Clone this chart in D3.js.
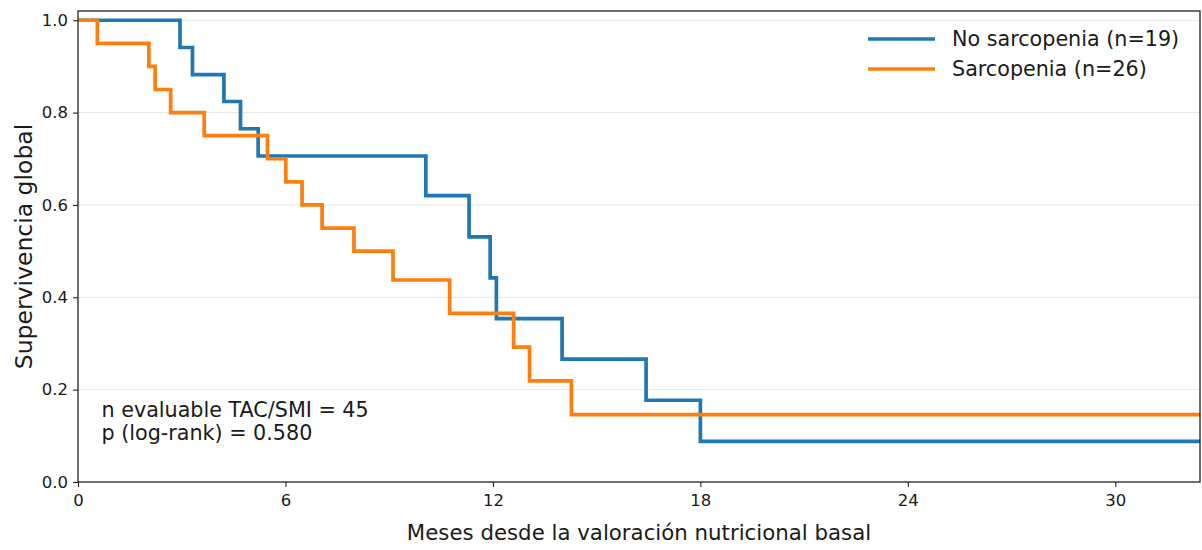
<!DOCTYPE html>
<html>
<head>
<meta charset="utf-8">
<script src="https://cdn.jsdelivr.net/npm/d3@7"></script>
<style>
  body { margin: 0; background: #fff; }
  svg { display: block; }
  text { font-family: "DejaVu Sans", sans-serif; fill: #1a1a1a; }
</style>
</head>
<body>
<svg id="chart" width="1202" height="550"></svg>
<script>
// Kaplan–Meier event times (months) and survival after each event
const noSarcTimes = [2.95, 3.31, 4.22, 4.70, 5.21, 10.06, 11.31, 11.92, 12.10, 14.00, 16.43, 18.00];
const noSarcSurv  = [0.941, 0.882, 0.824, 0.765, 0.706, 0.620, 0.531, 0.442, 0.354, 0.266, 0.177, 0.088];
const sarcTimes   = [0.56, 2.05, 2.23, 2.68, 3.65, 5.48, 6.01, 6.48, 7.06, 7.98, 9.11, 10.75, 12.60, 13.06, 14.27];
const sarcSurv    = [0.950, 0.900, 0.850, 0.800, 0.750, 0.700, 0.650, 0.600, 0.550, 0.500, 0.4375, 0.365, 0.292, 0.219, 0.146];
const seriesNames = ["No sarcopenia (n=19)", "Sarcopenia (n=26)"];
const seriesColors = ["#1f77b4", "#ff7f0e"];
const xTicks = [0, 6, 12, 18, 24, 30];
const yTicks = [0.0, 0.2, 0.4, 0.6, 0.8, 1.0];
const maxFollowUp = 32.45;
const annotationLines = ["n evaluable TAC/SMI = 45", "p (log-rank) = 0.580"];
const xLabel = "Meses desde la valoración nutricional basal";
const yLabel = "Supervivencia global";

const svg = d3.select("#chart");
const W = 1202, H = 550;
const m = { left: 78, top: 11, right: 2, bottom: 68 };
const iw = W - m.left - m.right, ih = H - m.top - m.bottom;

const x = d3.scaleLinear().domain([0, maxFollowUp]).range([0, iw]);
const y = d3.scaleLinear().domain([0, 1.02]).range([ih, 0]);

const g = svg.append("g").attr("transform", `translate(${m.left},${m.top})`);

// horizontal grid
g.append("g").selectAll("line").data(yTicks.filter(d => d > 0)).join("line")
  .attr("x1", 0).attr("x2", iw)
  .attr("y1", d => y(d)).attr("y2", d => y(d))
  .attr("stroke", "#e6e6e6").attr("stroke-width", 1);

g.append("clipPath").attr("id", "plotClip")
  .append("rect").attr("width", iw).attr("height", ih);

// step curves
function kmPoints(times, surv) {
  const pts = [{ t: 0, s: 1 }];
  times.forEach((t, i) => pts.push({ t, s: surv[i] }));
  pts.push({ t: maxFollowUp, s: surv[surv.length - 1] });
  return pts;
}
const line = d3.line().x(d => x(d.t)).y(d => y(d.s)).curve(d3.curveStepAfter);
const series = [kmPoints(noSarcTimes, noSarcSurv), kmPoints(sarcTimes, sarcSurv)];
g.append("g").attr("clip-path", "url(#plotClip)")
  .selectAll("path").data(series).join("path")
  .attr("d", line)
  .attr("fill", "none")
  .attr("stroke", (d, i) => seriesColors[i])
  .attr("stroke-width", 3.7)
  .attr("stroke-linejoin", "miter");

// axes
const xAxis = g.append("g").attr("transform", `translate(0,${ih})`)
  .call(d3.axisBottom(x).tickValues(xTicks).tickFormat(d3.format("d")).tickSize(5).tickPadding(7));
const yAxis = g.append("g")
  .call(d3.axisLeft(y).tickValues(yTicks).tickFormat(d3.format(".1f")).tickSize(5).tickPadding(5));
[xAxis, yAxis].forEach(a => {
  a.select(".domain").remove();
  a.selectAll(".tick line").attr("stroke", "#222").attr("stroke-width", 1.1);
  a.selectAll(".tick text").attr("font-size", 16.5).attr("fill", "#1a1a1a")
    .attr("font-family", "DejaVu Sans, sans-serif");
});

// frame
g.append("rect").attr("width", iw).attr("height", ih)
  .attr("fill", "none").attr("stroke", "#222").attr("stroke-width", 1.3);

// axis labels
svg.append("text")
  .attr("x", m.left + iw / 2).attr("y", 540)
  .attr("text-anchor", "middle").attr("font-size", 21.3)
  .text(xLabel);
svg.append("text")
  .attr("transform", `translate(32,${m.top + ih / 2}) rotate(-90)`)
  .attr("text-anchor", "middle").attr("font-size", 23.5)
  .text(yLabel);

// annotation
g.append("g").selectAll("text").data(annotationLines).join("text")
  .attr("x", 23.5).attr("y", (d, i) => 406 + i * 23)
  .attr("font-size", 20.7)
  .text(d => d);

// legend
const lg = g.append("g").attr("transform", `translate(${868 - m.left},${39 - m.top})`);
const items = lg.selectAll("g").data(seriesNames).join("g")
  .attr("transform", (d, i) => `translate(0,${i * 30})`);
items.append("line").attr("x1", 0).attr("x2", 67)
  .attr("stroke", (d, i) => seriesColors[i]).attr("stroke-width", 3.7);
items.append("text").attr("x", 84).attr("dy", "0.35em")
  .attr("font-size", 20.7).text(d => d);
</script>
</body>
</html>
